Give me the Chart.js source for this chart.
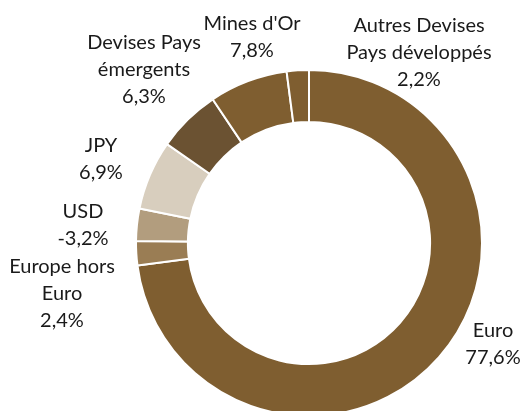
<!DOCTYPE html>
<html>
<head>
<meta charset="utf-8">
<script src="https://cdn.jsdelivr.net/npm/chart.js@4"></script>
<style>
  html, body { margin: 0; padding: 0; background: #fff; overflow: hidden; }
  #wrap { position: relative; width: 522px; height: 411px; }
</style>
</head>
<body>
<div id="wrap"><canvas id="expo-chart"></canvas></div>
<script>
// exposition par devise (%), dans l'ordre des parts en partant du haut
const categories = [
    ['Euro'],
    ['Europe hors', 'Euro'],
    ['USD'],
    ['JPY'],
    ['Devises Pays', 'émergents'],
    ["Mines d'Or"],
    ['Autres Devises', 'Pays développés'],
];
const values = [77.6, 2.4, -3.2, 6.9, 6.3, 7.8, 2.2];
const colors = ['#7f5e30', '#9a7d54', '#b29d7e', '#d8cebe', '#6b5232', '#7f5e30', '#7f5e30'];

// where each label sits, relative to the ring center (first line baseline)
const labelOffsets = [[184, 94], [-247, 30], [-226, -25], [-208, -91], [-165, -194], [-57, -213], [110, -211]];
const lineHeight = 27;

function formatPct(v) {
    return v.toFixed(1).replace('.', ',') + '%';
}

const labelPlugin = {
    id: 'sliceLabels',
    afterDraw(chart) {
        const ctx = chart.ctx;
        const arcs = chart.getDatasetMeta(0).data;
        const cx = arcs[0].x;
        const cy = arcs[0].y;
        ctx.save();
        ctx.font = '20px Lato, "Open Sans", sans-serif';
        ctx.fillStyle = '#1a1a1a';
        ctx.textAlign = 'center';
        ctx.textBaseline = 'alphabetic';
        categories.forEach((lines, i) => {
            const all = lines.concat([formatPct(values[i])]);
            const [dx, dy] = labelOffsets[i];
            all.forEach((txt, j) => {
                ctx.fillText(txt, cx + dx, cy + dy + j * lineHeight);
            });
        });
        ctx.restore();
    }
};

const ctx = document.getElementById('expo-chart').getContext('2d');
new Chart(ctx, {
    type: 'doughnut',
    data: {
        labels: categories.map((c) => c.join(' ')),
        datasets: [
            {
                data: values.map((v) => Math.abs(v)),
                backgroundColor: colors,
                borderColor: '#ffffff',
                borderWidth: 2,
                clip: false,
            },
        ],
    },
    options: {
        responsive: true,
        maintainAspectRatio: false,
        animation: false,
        radius: 173,
        cutout: '70%',
        layout: {
            padding: { top: 75, bottom: 0, left: 96, right: 0 },
        },
        plugins: {
            legend: { display: false },
            tooltip: { enabled: false },
        },
    },
    plugins: [labelPlugin],
});
</script>
</body>
</html>
